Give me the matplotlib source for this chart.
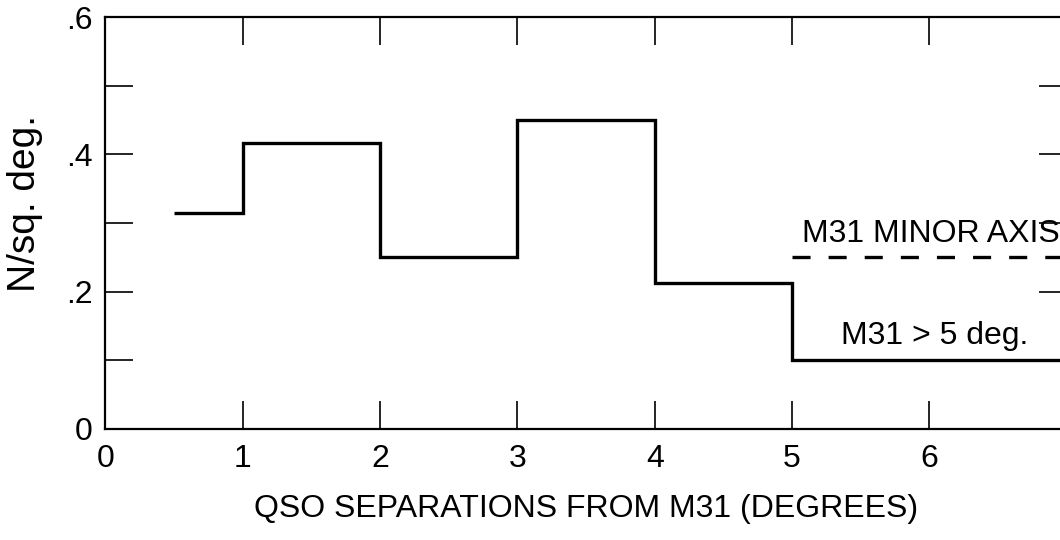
"""QSO surface density vs separation from M31 (step histogram)."""

import matplotlib

matplotlib.use("Agg")

import matplotlib.pyplot as plt
import numpy as np

# bin edges (degrees) and densities (N/sq. deg.)
bin_edges = [0.5, 1, 2, 3, 4, 5, 7]
density = [0.315, 0.416, 0.25, 0.45, 0.212, 0.1]

# minor-axis comparison level
minor_axis_x = [5, 7]
minor_axis_y = [0.25, 0.25]

x_ticks = [0, 1, 2, 3, 4, 5, 6]
y_ticks = [0, 0.2, 0.4, 0.6]
y_tick_labels = ["0", ".2", ".4", ".6"]

plt.rcParams["font.family"] = ["Liberation Sans", "DejaVu Sans"]
plt.rcParams["lines.scale_dashes"] = False

fig = plt.figure(figsize=(10.6, 5.4), dpi=100)
ax = fig.add_axes([0.0995, 0.2056, 0.9068, 0.7629])

ax.stairs(density, bin_edges, color="black", linewidth=2.4, baseline=None)
ax.plot(minor_axis_x, minor_axis_y, color="black", linewidth=2.4,
        linestyle=(0, (13, 13)))

ax.text(5.07, 0.262, "M31 MINOR AXIS", fontsize=23, ha="left", va="bottom")
ax.text(5.36, 0.113, "M31 > 5 deg.", fontsize=23, ha="left", va="bottom")

ax.set_xlim(0, 7)
ax.set_ylim(0, 0.6)
ax.set_xticks(x_ticks)
ax.set_xticklabels([str(t) for t in x_ticks])
ax.set_yticks(y_ticks)
ax.set_yticklabels(y_tick_labels)
ax.set_yticks(np.arange(0.1, 0.6, 0.2), minor=True)

ax.tick_params(axis="both", which="both", direction="in", length=20,
               width=1.2, top=True, right=True, labelsize=23, color="black")
ax.tick_params(axis="x", pad=11)
ax.tick_params(axis="y", pad=9)

for spine in ax.spines.values():
    spine.set_linewidth(1.6)

ax.set_xlabel("QSO SEPARATIONS FROM M31 (DEGREES)", fontsize=23, labelpad=14)
fig.text(25 / 1060, 1 - 203 / 540, "N/sq. deg.", fontsize=28, rotation=90,
         ha="center", va="center")

fig.savefig("out.png", dpi=100)
